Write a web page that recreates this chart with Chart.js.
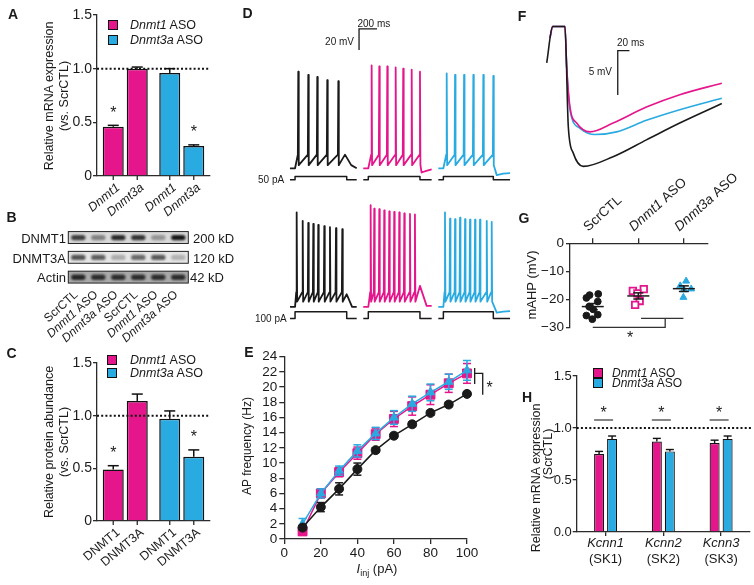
<!DOCTYPE html>
<html>
<head>
<meta charset="utf-8">
<title>Dnmt knockdown, firing and mAHP</title>
<script src="https://cdn.jsdelivr.net/npm/chart.js@4.4.1/dist/chart.umd.min.js"></script>
<style>
  body { margin: 0; background: #fff; }
  #fig { position: relative; width: 754px; height: 585px; overflow: hidden; font-family: "Liberation Sans", Arial, Helvetica, sans-serif; color: #1a1a1a; }
  #fig canvas { position: absolute; left: 0; top: 0; }
  .t { position: absolute; white-space: nowrap; line-height: 1; }
  .c { transform: translate(-50%, -50%); }
  .l { transform: translate(0, -50%); }
  .r { transform: translate(-100%, -50%); }
  .v { transform: translate(-50%, -50%) rotate(-90deg); }
  .pl { font-weight: bold; font-size: 14px; }
  .sq { position: absolute; width: 8px; height: 8px; border: 1px solid #111; transform: translate(-50%, -50%); }
  sub { font-size: 9px; vertical-align: -3px; line-height: 0; }
</style>
</head>
<body>
<div id="fig">
  <canvas id="chartA" width="754" height="585"></canvas>
  <canvas id="chartB" width="754" height="585"></canvas>
  <canvas id="chartC" width="754" height="585"></canvas>
  <canvas id="chartD" width="754" height="585"></canvas>
  <canvas id="chartE" width="754" height="585"></canvas>
  <canvas id="chartF" width="754" height="585"></canvas>
  <canvas id="chartG" width="754" height="585"></canvas>
  <canvas id="chartH" width="754" height="585"></canvas>

  <div class="t c pl" style="left:13px;top:13.5px">A</div>
  <div class="t c pl" style="left:11.5px;top:217px">B</div>
  <div class="t c pl" style="left:11.5px;top:353px">C</div>
  <div class="t c pl" style="left:247.5px;top:13px">D</div>
  <div class="t c pl" style="left:249px;top:352px">E</div>
  <div class="t c pl" style="left:522px;top:15.5px">F</div>
  <div class="t c pl" style="left:524px;top:218px">G</div>
  <div class="t c pl" style="left:527px;top:397px">H</div>

  <!-- A -->
  <div class="t v" style="left:49px;top:95.5px;font-size:12.5px">Relative mRNA expression</div>
  <div class="t v" style="left:63.5px;top:95.5px;font-size:12.5px">(vs. ScrCTL)</div>
  <div class="sq" style="left:113px;top:25px;background:#e5168b"></div>
  <div class="sq" style="left:113px;top:40px;background:#29aae1"></div>
  <div class="t l" style="left:130px;top:25px;font-size:12.5px"><i>Dnmt1</i> ASO</div>
  <div class="t l" style="left:130px;top:40px;font-size:12.5px"><i>Dnmt3a</i> ASO</div>

  <!-- B -->
  <div class="t r" style="left:66px;top:237.5px;font-size:13px">DNMT1</div>
  <div class="t r" style="left:66px;top:257.5px;font-size:13px">DNMT3A</div>
  <div class="t r" style="left:66px;top:277px;font-size:13px">Actin</div>
  <div class="t l" style="left:193px;top:237.5px;font-size:13px">200 kD</div>
  <div class="t l" style="left:193px;top:257.5px;font-size:13px">120 kD</div>
  <div class="t l" style="left:190px;top:277px;font-size:13px">42 kD</div>

  <!-- C -->
  <div class="t v" style="left:49px;top:442px;font-size:12.5px">Relative protein abundance</div>
  <div class="t v" style="left:63.5px;top:442px;font-size:12.5px">(vs. ScrCTL)</div>
  <div class="sq" style="left:112px;top:360px;background:#e5168b"></div>
  <div class="sq" style="left:112px;top:373px;background:#29aae1"></div>
  <div class="t l" style="left:130px;top:360px;font-size:12.5px"><i>Dnmt1</i> ASO</div>
  <div class="t l" style="left:130px;top:373px;font-size:12.5px"><i>Dnmt3a</i> ASO</div>

  <!-- D -->
  <div class="t l" style="left:357.5px;top:24px;font-size:10px">200 ms</div>
  <div class="t r" style="left:354px;top:42px;font-size:10px">20 mV</div>
  <div class="t l" style="left:258px;top:180px;font-size:10px">50 pA</div>
  <div class="t l" style="left:255px;top:319px;font-size:10px">100 pA</div>

  <!-- E -->
  <div class="t v" style="left:247px;top:446px;font-size:12px">AP frequency (Hz)</div>
  <div class="t c" style="left:377px;top:568px;font-size:13px"><i>I</i><sub>inj</sub> (pA)</div>

  <!-- F -->
  <div class="t l" style="left:617px;top:43.3px;font-size:10px">20 ms</div>
  <div class="t r" style="left:612px;top:71.7px;font-size:10px">5 mV</div>

  <!-- G -->
  <div class="t v" style="left:531px;top:285px;font-size:13px">mAHP (mV)</div>

  <!-- H -->
  <div class="t v" style="left:536px;top:478px;font-size:12.5px">Relative mRNA expression</div>
  <div class="t v" style="left:548px;top:454px;font-size:12.5px">(ScrCTL)</div>
  <div class="sq" style="left:598px;top:372.7px;background:#e5168b"></div>
  <div class="sq" style="left:598px;top:383.3px;background:#29aae1"></div>
  <div class="t l" style="left:612px;top:372.7px;font-size:12px"><i>Dnmt1</i> ASO</div>
  <div class="t l" style="left:612px;top:383.3px;font-size:12px"><i>Dnmt3a</i> ASO</div>
</div>

<script>
// ---------- data ----------
// A: qPCR, bars grouped by ASO
const asoGroups = ['Dnmt1 ASO', 'Dnmt3a ASO'];
const mrnaTargets = ['_Dnmt1_', '_Dnmt3a_'];
const mrnaDnmt1 = [0.46, 0.96];
const mrnaDnmt1Err = [0.012, 0.04];
const mrnaDnmt3a = [1.00, 0.28];
const mrnaDnmt3aErr = [0.015, 0.01];

// B: western blot, band intensity per lane (0..1)
const blotLanes = ['ScrCTL', '_Dnmt1_ ASO', '_Dnmt3a_ ASO', 'ScrCTL', '_Dnmt1_ ASO', '_Dnmt3a_ ASO'];
const blotRows = ['DNMT1', 'DNMT3A', 'Actin'];
const bandDNMT1 = [0.8, 0.45, 0.9, 0.85, 0.35, 1.0];
const bandDNMT3A = [0.7, 0.65, 0.28, 0.6, 0.68, 0.25];
const bandActin = [0.9, 0.85, 0.85, 0.85, 0.85, 0.85];

// C: protein abundance
const protTargets = ['DNMT1', 'DNMT3A'];
const protDNMT1 = [0.49, 0.97];
const protDNMT1Err = [0.035, 0.075];
const protDNMT3A = [1.14, 0.61];
const protDNMT3AErr = [0.065, 0.065];

// D: spike times (ms from trace start) and peaks (mV), per column ScrCTL / Dnmt1 / Dnmt3a
const spikeT50 = [[92, 203, 303, 414, 537], [93, 178, 267, 360, 444, 538, 630], [93, 186, 286, 389, 500, 611]];
const spikeV50 = [[26, 23, 21, 18, 17], [32, 31, 31, 30, 29, 28, 26], [24.5, 23, 23, 23, 23, 22]];
const tail50 = [[[611, -53], [680, -63], [741, -66]], [[648, -70], [700, -68.5], [760, -67]], [[649, -72.5], [720, -71], [797, -70.5]]];
const spikeT100 = [[74, 141, 203, 259, 314, 381, 444, 511, 581], [82, 122, 178, 233, 289, 344, 400, 456, 519, 574], [74, 130, 186, 241, 297, 352, 408, 463, 538, 593]];
const spikeV100 = [[24, 16, 14, 13, 12, 11, 10, 9, 8], [31, 27.5, 27, 26, 25, 24.5, 24, 23, 22.5, 22], [24, 18, 17.5, 19, 17.5, 17, 17, 17, 16, 15]];
const tail100 = [[[630, -54], [690, -66], [741, -66]], [[630, -46], [704, -65], [760, -65]], [[649, -71.5], [720, -70.5], [797, -70]]];
const stepAmps = [50, 100];
const stepOff = [630, 630, 611];
const traceEnd = [741, 760, 797];

// E: AP frequency (Hz) vs injected current (pA)
const injCurrent = [10, 20, 30, 40, 50, 60, 70, 80, 90, 100];
const freqScr = [1.5, 4.2, 6.6, 9.2, 11.7, 13.6, 15.1, 16.6, 17.7, 19.1];
const freqScrErr = [0.3, 0.6, 0.8, 0.8, 0.3, 0.3, 0.3, 0.3, 0.3, 0.3];
const freqDnmt1 = [1.0, 6.0, 8.8, 11.3, 13.8, 15.8, 17.5, 19.0, 20.5, 21.8];
const freqDnmt1Err = [0.5, 0.6, 0.6, 0.8, 0.8, 1.0, 1.2, 1.3, 1.2, 1.3];
const freqDnmt3a = [2.0, 6.0, 9.0, 11.6, 13.9, 16.0, 17.8, 19.3, 20.7, 22.2];
const freqDnmt3aErr = [0.7, 0.6, 0.6, 0.8, 0.8, 0.9, 1.0, 1.1, 1.0, 1.3];

// F: averaged mAHP traces, [ms, mV]
const ahpScr = [[11.5, -5.4], [21.7, -1.3], [42.7, -1.3], [48.4, -12.6], [56.9, -15.6], [74, -17.1], [125, -16.0], [182, -14.1], [239, -12.2], [311, -10.0]];
const ahpDnmt1 = [[17, -2.6], [21.7, -1.3], [42.7, -1.3], [45.6, -5.8], [51.3, -10.4], [62.7, -12.2], [85.5, -13.2], [125, -12.2], [182, -10.4], [239, -9.0], [311, -7.7]];
const ahpDnmt3a = [[17, -2.6], [21.7, -1.3], [42.7, -1.3], [45.6, -5.8], [51.3, -10.7], [68.4, -12.8], [94, -13.5], [131, -13.2], [182, -11.9], [239, -10.7], [311, -9.4]];

// G: mAHP amplitude per cell (x = group position with jitter)
const ahpGroups = ['ScrCTL', '_Dnmt1_ ASO', '_Dnmt3a_ ASO'];
const gScrX = [0.93, 1.12, 0.86, 1.11, 0.92, 1.01, 0.86, 1.11, 0.99];
const gScrY = [-18.5, -18.1, -19.5, -20.8, -22.6, -23.6, -25.8, -25.5, -27.1];
const gDnmt1X = [1.88, 2.12, 1.98, 2.03, 1.93];
const gDnmt1Y = [-17.0, -16.4, -17.9, -20.6, -22.0];
const gDnmt3aX = [3.05, 2.92, 3.16, 3.0, 2.99];
const gDnmt3aY = [-13.5, -15.2, -16.3, -16.6, -19.3];
const gMean = [-22.6, -18.8, -16.2];
const gSem = [1.1, 1.1, 1.0];

// H: SK channel mRNA
const kcnnGenes = ['_Kcnn1_', '_Kcnn2_', '_Kcnn3_'];
const kcnnSub = ['(SK1)', '(SK2)', '(SK3)'];
const kcnnDnmt1 = [0.75, 0.87, 0.855];
const kcnnDnmt1Err = [0.025, 0.03, 0.028];
const kcnnDnmt3a = [0.895, 0.775, 0.895];
const kcnnDnmt3aErr = [0.028, 0.018, 0.028];

// ---------- helpers ----------
const PINK = '#e5168b', CYAN = '#29aae1', INK = '#1a1a1a', AX = '#2b2b2b';
const FONT = '"Liberation Sans", Arial, Helvetica, sans-serif';
Chart.defaults.font.family = FONT;
Chart.defaults.color = INK;
Chart.defaults.animation = false;
Chart.defaults.plugins.legend.display = false;
Chart.defaults.plugins.tooltip.enabled = false;

// axes get a fixed box so the chart area lands on exact page pixels
const AXW = 50, AXH = 35;
const fixFit = s => { if (s.isHorizontal()) s.height = AXH; else s.width = AXW; };
const zeroFit = s => { if (s.isHorizontal()) s.height = 0; else s.width = 0; };
// axes: 'l' = y on the left, 'b' / 't' = x at bottom / top
function pad(l, t, r, b, axes = '') {
    return {
        padding: {
            left: l - (axes.includes('l') ? AXW : 0),
            top: t - (axes.includes('t') ? AXH : 0),
            right: 754 - r,
            bottom: 585 - b - (axes.includes('b') ? AXH : 0)
        },
        autoPadding: false
    };
}

function lin(min, max, step, o = {}) {
    return {
        type: 'linear', min, max, position: o.position, afterFit: fixFit,
        border: { display: true, color: AX, width: 1.3 },
        grid: { drawOnChartArea: false, drawTicks: !!o.tick, tickLength: o.tick || 0, color: AX, lineWidth: 1.3 },
        ticks: { display: o.labels !== false, stepSize: step, padding: o.pad || 1, font: { size: o.size || 13 }, callback: o.fmt, autoSkip: false, maxRotation: 0 },
        afterBuildTicks: o.at ? (s => { s.ticks = o.at.map(v => ({ value: v })); }) : undefined
    };
}
function cat(o = {}) {
    return {
        type: 'category', afterFit: fixFit,
        border: { display: true, color: AX, width: 1.3 },
        grid: { drawOnChartArea: false, offset: false, drawTicks: !!o.tick, tickLength: o.tick || 0, color: AX, lineWidth: 1.3 },
        ticks: { display: false }
    };
}
function rich(ctx, str, x, y, ang, align, size) {
    const parts = str.split('_');
    const fonts = parts.map((p, i) => (i % 2 ? 'italic ' : '') + size + 'px ' + FONT);
    ctx.save();
    ctx.translate(x, y);
    ctx.rotate(ang * Math.PI / 180);
    ctx.textBaseline = 'middle';
    ctx.textAlign = 'left';
    ctx.fillStyle = INK;
    const w = parts.map((p, i) => { ctx.font = fonts[i]; return ctx.measureText(p).width; });
    const total = w.reduce((a, b) => a + b, 0);
    let cx = align === 'right' ? -total : align === 'center' ? -total / 2 : 0;
    parts.forEach((p, i) => { ctx.font = fonts[i]; ctx.fillText(p, cx, 0); cx += w[i]; });
    ctx.restore();
}
function path(ctx, pts, width, color) {
    ctx.save();
    ctx.strokeStyle = color; ctx.lineWidth = width;
    ctx.beginPath();
    pts.forEach((p, i) => i ? ctx.lineTo(p[0], p[1]) : ctx.moveTo(p[0], p[1]));
    ctx.stroke();
    ctx.restore();
}
function whisker(ctx, x, yFrom, yTo, half, color, width, bothCaps) {
    path(ctx, [[x, yFrom], [x, yTo]], width, color);
    path(ctx, [[x - half, yTo], [x + half, yTo]], width, color);
    if (bothCaps) path(ctx, [[x - half, yFrom], [x + half, yFrom]], width, color);
}
function dotted(ctx, x1, x2, y) {
    ctx.save();
    ctx.setLineDash([2, 2.2]);
    path(ctx, [[x1, y], [x2, y]], 2, '#111');
    ctx.restore();
}
function star(ctx, x, y) {
    ctx.save();
    ctx.fillStyle = INK; ctx.font = '16px ' + FONT;
    ctx.textAlign = 'center'; ctx.textBaseline = 'alphabetic';
    ctx.fillText('*', x, y + 9.4);
    ctx.restore();
}
const xy = (xs, ys) => xs.map((x, i) => ({ x, y: ys[i] }));
const pairs = arr => arr.map(p => ({ x: p[0], y: p[1] }));

// ---------- A and C: grouped bars ----------
function groupedBars(id, area, d1, d1Err, d2, d2Err, labels, stars, labelY) {
    new Chart(document.getElementById(id), {
        type: 'bar',
        data: {
            labels: asoGroups,
            datasets: [
                { data: d1, backgroundColor: [PINK, CYAN] },
                { data: d2, backgroundColor: [PINK, CYAN] }
            ]
        },
        options: {
            layout: pad(...area, 'lb'),
            datasets: { bar: { borderColor: '#111', borderWidth: 1.5, categoryPercentage: 0.85, barPercentage: 0.875 } },
            scales: {
                x: cat(),
                y: lin(0, 1.5, 0.5, { tick: 4, pad: 1, size: 14, fmt: v => v === 0 ? '0' : v.toFixed(1) })
            }
        },
        plugins: [{
            id: 'deco' + id,
            afterDatasetsDraw(chart) {
                const ctx = chart.ctx, y = chart.scales.y, a = chart.chartArea;
                const errs = [d1Err, d2Err];
                [d1, d2].forEach((vals, d) => chart.getDatasetMeta(d).data.forEach((bar, i) => {
                    whisker(ctx, bar.x, y.getPixelForValue(vals[i]), y.getPixelForValue(vals[i] + errs[d][i]), 5.5, '#111', 1.5);
                    path(ctx, [[bar.x, a.bottom], [bar.x, a.bottom + 4]], 1.3, AX);
                    rich(ctx, labels[d], bar.x + 5, labelY, -40, 'right', 12.5);
                }));
                stars.forEach(([d, i]) => {
                    const bar = chart.getDatasetMeta(d).data[i];
                    const vals = [d1, d2][d];
                    star(ctx, bar.x, y.getPixelForValue(vals[i] + errs[d][i]) - 17);
                });
                dotted(ctx, a.left, a.right, y.getPixelForValue(1));
            }
        }]
    });
}
groupedBars('chartA', [97, 15, 210, 176], mrnaDnmt1, mrnaDnmt1Err, mrnaDnmt3a, mrnaDnmt3aErr, mrnaTargets, [[0, 0], [1, 1]], 186);
groupedBars('chartC', [97, 363, 210, 521], protDNMT1, protDNMT1Err, protDNMT3A, protDNMT3AErr, protTargets, [[0, 0], [1, 1]], 531);

// ---------- B: blot ----------
const blotBands = [bandDNMT1, bandDNMT3A, bandActin];
const blotBoxFill = ['#d9d9d9', '#e6e6e6', '#a9a9a9'];
new Chart(document.getElementById('chartB'), {
    type: 'bar',
    data: {
        labels: blotLanes,
        datasets: blotBands.map((band, k) => ({
            data: band.map(() => [k + 0.25, k + 0.52]),
            backgroundColor: band.map(a => `rgba(22,22,22,${a})`)
        }))
    },
    options: {
        layout: pad(68.3, 230, 188.3, 289.4),
        datasets: { bar: { grouped: false, categoryPercentage: 1, barPercentage: 0.72, borderRadius: 3, borderSkipped: false } },
        scales: {
            x: { type: 'category', display: false, afterFit: zeroFit },
            y: { type: 'linear', min: 0, max: 3, reverse: true, display: false, afterFit: zeroFit }
        }
    },
    plugins: [{
        id: 'blot',
        beforeDatasetsDraw(chart) {
            const ctx = chart.ctx, y = chart.scales.y, a = chart.chartArea;
            blotRows.forEach((row, k) => {
                const t = y.getPixelForValue(k + 0.08), b = y.getPixelForValue(k + 0.68);
                ctx.fillStyle = blotBoxFill[k];
                ctx.fillRect(a.left, t, a.right - a.left, b - t);
                ctx.strokeStyle = '#222'; ctx.lineWidth = 1;
                ctx.strokeRect(a.left, t, a.right - a.left, b - t);
            });
            ctx.filter = 'blur(0.8px)';
        },
        afterDatasetsDraw(chart) {
            chart.ctx.filter = 'none';
            const x = chart.scales.x;
            blotLanes.forEach((lane, i) => rich(chart.ctx, lane, x.getPixelForValue(i) - 2, 293, -42, 'right', 12));
        }
    }]
});

// ---------- D: firing traces ----------
const REST = -66;
const colOffset = [389, 1203, 2037];   // ms
const rowOffset = [0, -132];           // mV
const thr = [-53, -52], trough = [-63, -61];
function buildTrace(ts, vs, tail, r, c) {
    const pts = [[0, REST], [56, REST]];
    ts.forEach((t, i) => pts.push([t - 5, thr[r]], [t, vs[i]], [t + 5, trough[r]]));
    tail.forEach(p => pts.push(p));
    return pts.map(p => ({ x: p[0] + colOffset[c], y: p[1] + rowOffset[r] }));
}
function buildStep(r, c) {
    const lo = -77 + rowOffset[r], hi = lo + stepAmps[r] * 0.064;
    return pairs([[0, lo], [56, lo], [56, hi], [stepOff[c], hi], [stepOff[c], lo], [traceEnd[c], lo]])
        .map(p => ({ x: p.x + colOffset[c], y: p.y }));
}
const traceColors = [INK, PINK, CYAN];
const dSets = [];
[[spikeT50, spikeV50, tail50], [spikeT100, spikeV100, tail100]].forEach(([T, V, tails], r) => {
    [0, 1, 2].forEach(c => {
        dSets.push({ data: buildTrace(T[c], V[c], tails[c], r, c), borderColor: traceColors[c], borderWidth: 1.8 });
        dSets.push({ data: buildStep(r, c), borderColor: INK, borderWidth: 1.5 });
    });
});
function scaleBar(chart, t0, v0, dt, dv) {
    const x = chart.scales.x, y = chart.scales.y;
    const x0 = x.getPixelForValue(t0), x1 = x.getPixelForValue(t0 + dt);
    const y0 = y.getPixelForValue(v0), y1 = y.getPixelForValue(v0 + dv);
    path(chart.ctx, [[x0, y0], [x0, y1], [x1, y1]], 1.3, INK);
}
new Chart(document.getElementById('chartD'), {
    type: 'scatter',
    data: { datasets: dSets },
    options: {
        layout: pad(255, 15, 525, 330),
        datasets: { scatter: { showLine: true, pointRadius: 0, borderJoinStyle: 'round', clip: false } },
        scales: {
            x: { type: 'linear', min: 0, max: 3000, display: false, afterFit: zeroFit },
            y: { type: 'linear', min: -220, max: 80, display: false, afterFit: zeroFit }
        }
    },
    plugins: [{ id: 'barD', afterDraw: chart => scaleBar(chart, 1156, 46.7, 200, 20) }]
});

// ---------- E: f-I curves ----------
const eErrs = [freqScrErr, freqDnmt3aErr, freqDnmt1Err];
const eColors = [INK, CYAN, PINK];
new Chart(document.getElementById('chartE'), {
    type: 'scatter',
    data: {
        datasets: [
            { data: xy(injCurrent, freqScr), borderColor: INK, backgroundColor: INK, pointStyle: 'circle', pointRadius: 4.5 },
            { data: xy(injCurrent, freqDnmt3a), borderColor: CYAN, backgroundColor: CYAN, pointStyle: 'triangle', pointRadius: 5 },
            { data: xy(injCurrent, freqDnmt1), borderColor: PINK, backgroundColor: PINK, pointStyle: 'rect', pointRadius: 6.3 }
        ]
    },
    options: {
        layout: pad(284.3, 356.7, 467, 539, 'lb'),
        datasets: { scatter: { showLine: true, borderWidth: 1.5, pointBorderWidth: 1, clip: false } },
        scales: {
            x: lin(0, 100, 20, { tick: 5, pad: 1, size: 13.5 }),
            y: lin(0, 24, 2, { tick: 5, pad: 2, size: 13.5 })
        }
    },
    plugins: [{
        id: 'errE',
        afterDatasetDraw(chart, args) {
            const y = chart.scales.y, d = args.index;
            const vals = chart.data.datasets[d].data;
            args.meta.data.forEach((p, i) => {
                whisker(chart.ctx, p.x, y.getPixelForValue(vals[i].y - eErrs[d][i]), y.getPixelForValue(vals[i].y + eErrs[d][i]), 4, eColors[d], 1.5, true);
            });
        },
        afterDraw(chart) {
            const x = chart.scales.x, y = chart.scales.y, ctx = chart.ctx;
            const P = (a, b) => [x.getPixelForValue(a), y.getPixelForValue(b)];
            path(ctx, [P(104.2, 20.4), P(104.2, 22.5)], 1.3, INK);
            path(ctx, [P(104.2, 21.8), P(108.6, 21.8), P(108.6, 19.0)], 1.3, INK);
            star(ctx, ...P(112.4, 20.5));
        }
    }]
});

// ---------- F: mAHP traces ----------
new Chart(document.getElementById('chartF'), {
    type: 'scatter',
    data: {
        datasets: [
            { data: pairs(ahpScr), borderColor: INK },
            { data: pairs(ahpDnmt1), borderColor: PINK },
            { data: pairs(ahpDnmt3a), borderColor: CYAN }
        ]
    },
    options: {
        layout: pad(540, 15, 730, 185),
        datasets: { scatter: { showLine: true, pointRadius: 0, borderWidth: 1.6, cubicInterpolationMode: 'monotone', clip: false } },
        scales: {
            x: { type: 'linear', min: 0, max: 325, display: false, afterFit: zeroFit },
            y: { type: 'linear', min: -19.2, max: 0, display: false, afterFit: zeroFit }
        }
    },
    plugins: [{ id: 'barF', afterDraw: chart => scaleBar(chart, 133, -9.03, 20, 5) }]
});

// ---------- G: mAHP scatter ----------
new Chart(document.getElementById('chartG'), {
    type: 'scatter',
    data: {
        datasets: [
            { data: xy(gScrX, gScrY), backgroundColor: INK, borderColor: INK, pointStyle: 'circle', pointRadius: 3.4 },
            { data: xy(gDnmt1X, gDnmt1Y), backgroundColor: '#fff', borderColor: PINK, pointStyle: 'rect', pointRadius: 4.6, pointBorderWidth: 1.8 },
            { data: xy(gDnmt3aX, gDnmt3aY), backgroundColor: CYAN, borderColor: CYAN, pointStyle: 'triangle', pointRadius: 4 }
        ]
    },
    options: {
        layout: pad(570, 243.3, 708, 327.3, 'lt'),
        datasets: { scatter: { clip: false } },
        scales: {
            x: lin(0.5, 3.53, 1, { position: 'top', tick: 5, labels: false, at: [1, 2, 3] }),
            y: lin(-30, 0, 10, { tick: 4, pad: 2, size: 13.5, fmt: v => v === 0 ? '0' : '\u2212' + Math.abs(v) })
        }
    },
    plugins: [{
        id: 'decoG',
        afterDatasetsDraw(chart) {
            const x = chart.scales.x, y = chart.scales.y, ctx = chart.ctx;
            const P = (a, b) => [x.getPixelForValue(a), y.getPixelForValue(b)];
            ahpGroups.forEach((g, i) => {
                const cx = x.getPixelForValue(i + 1);
                const my = y.getPixelForValue(gMean[i]);
                path(ctx, [[cx - 11, my], [cx + 11, my]], 1.5, INK);
                whisker(ctx, cx, y.getPixelForValue(gMean[i] - gSem[i]), y.getPixelForValue(gMean[i] + gSem[i]), 5, INK, 1.5, true);
                rich(ctx, g, cx - 7, 229, -42, 'left', 13.5);
            });
            path(ctx, [P(1, -30), P(2.59, -30), P(2.59, -26.8)], 1.3, '#333');
            path(ctx, [P(2.06, -26.8), P(2.99, -26.8)], 1.3, '#333');
            star(ctx, ...P(1.82, -32.4));
        }
    }]
});

// ---------- H: Kcnn mRNA ----------
new Chart(document.getElementById('chartH'), {
    type: 'bar',
    data: {
        labels: kcnnGenes,
        datasets: [
            { data: kcnnDnmt1, backgroundColor: PINK },
            { data: kcnnDnmt3a, backgroundColor: CYAN }
        ]
    },
    options: {
        layout: pad(576.7, 376, 750, 532, 'lb'),
        datasets: { bar: { borderColor: '#111', borderWidth: 1.2, categoryPercentage: 0.45, barPercentage: 0.77 } },
        scales: {
            x: cat({ tick: 4 }),
            y: lin(0, 1.5, 0.5, { tick: 4, pad: 1, size: 13, fmt: v => v.toFixed(1) })
        }
    },
    plugins: [{
        id: 'decoH',
        afterDatasetsDraw(chart) {
            const ctx = chart.ctx, x = chart.scales.x, y = chart.scales.y, a = chart.chartArea;
            const errs = [kcnnDnmt1Err, kcnnDnmt3aErr];
            [kcnnDnmt1, kcnnDnmt3a].forEach((vals, d) => chart.getDatasetMeta(d).data.forEach((bar, i) => {
                whisker(ctx, bar.x, y.getPixelForValue(vals[i]), y.getPixelForValue(vals[i] + errs[d][i]), 4, '#111', 1.4);
            }));
            dotted(ctx, a.left, a.right + 2, y.getPixelForValue(1));
            kcnnGenes.forEach((g, i) => {
                const cx = x.getPixelForValue(i);
                const p0 = chart.getDatasetMeta(0).data[i], p1 = chart.getDatasetMeta(1).data[i];
                const ly = y.getPixelForValue(1.077);
                path(ctx, [[p0.x - 5, ly], [p1.x + 1, ly]], 1.3, '#444');
                star(ctx, cx - 2, y.getPixelForValue(1.185));
                rich(ctx, g, cx, 543, 0, 'center', 13);
                rich(ctx, kcnnSub[i], cx, 559, 0, 'center', 13);
            });
        }
    }]
});
</script>
</body>
</html>
